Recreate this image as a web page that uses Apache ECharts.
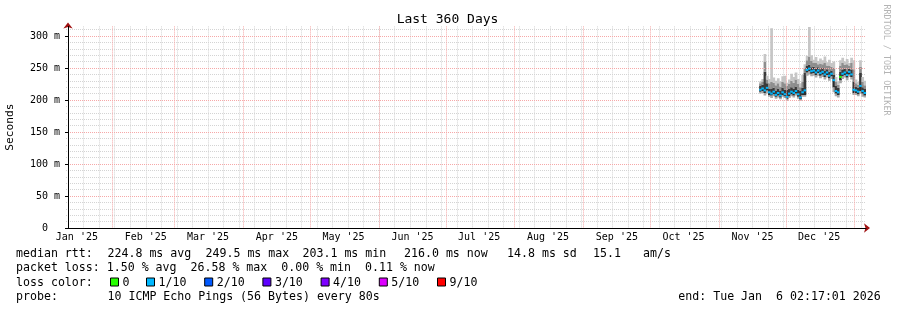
<!DOCTYPE html>
<html><head><meta charset="utf-8">
<script src="https://cdn.jsdelivr.net/npm/echarts@6/dist/echarts.min.js"></script>
<style>html,body{margin:0;padding:0;background:#fff}#c{width:897px;height:310px}</style>
</head><body><div id="c"></div>
<script>
// ---------------- data ----------------
const days = ['2025-11-19','2025-11-20','2025-11-21','2025-11-22','2025-11-23','2025-11-24','2025-11-25','2025-11-26','2025-11-27','2025-11-28','2025-11-29','2025-11-30',
  '2025-12-01','2025-12-02','2025-12-03','2025-12-04','2025-12-05','2025-12-06','2025-12-07','2025-12-08','2025-12-09','2025-12-10','2025-12-11','2025-12-12',
  '2025-12-13','2025-12-14','2025-12-15','2025-12-16','2025-12-17','2025-12-18','2025-12-19','2025-12-20','2025-12-21','2025-12-22','2025-12-23','2025-12-24',
  '2025-12-25','2025-12-26','2025-12-27','2025-12-28','2025-12-29','2025-12-30','2025-12-31','2026-01-01','2026-01-02','2026-01-03','2026-01-04','2026-01-05','2026-01-06'];
// median rtt (ms)
const median =       [216,218,215,219,212,210,213,208,211,207,212,209, 205,210,213,211,214,209,204,212,215,247,249,245, 246,243,246,242,244,240,243,238,241,231,214,212, 236,241,243,239,244,240,216,215,213,222,214,211,210];
// lowest ping (smoke bottom)
const smokeLow =     [210,211,207,210,205,203,206,202,204,201,205,203, 199,203,206,204,207,202,199,205,205,238,240,237, 238,235,238,234,236,232,235,230,233,212,206,204, 226,233,235,231,236,232,208,208,206,210,205,204,203];
// bottom of dark smoke (below median)
const smokeLowDark = [213,214,211,215,208,207,209,205,207,204,208,206, 202,206,209,207,210,205,201,208,208,243,245,241, 242,239,242,238,240,236,239,234,237,220,210,208, 231,237,239,235,240,236,211,211,209,214,210,207,206];
// top of dark smoke (above median)
const smokeDark =    [222,224,244,226,218,217,219,215,218,214,219,216, 216,217,220,218,221,216,214,219,242,253,255,251, 252,249,251,248,250,246,248,244,246,240,222,219, 244,247,249,245,249,247,228,221,219,242,220,217,216];
// top of mid smoke
const smokeMid =     [226,229,260,232,226,228,227,223,226,221,228,226, 222,225,230,227,232,225,220,229,250,262,268,261, 258,258,256,257,256,258,254,254,252,250,229,224, 254,258,255,256,254,258,248,226,224,252,228,223,222];
// highest ping (smoke top)
const smokeHigh =    [229,233,272,238,233,312,235,230,234,229,237,238, 227,232,241,236,243,233,226,239,256,269,314,270, 263,267,261,265,262,268,259,263,258,260,236,229, 262,266,260,264,258,266,262,232,228,262,236,230,228];
// packet loss in tenths
const lossTenths =   [1,1,1,1,1,1,1,1,1,1,1,1, 1,1,1,1,1,1,1,1,1,1,1,1, 1,1,1,1,1,1,1,1,1,1,1,1, 0,1,1,1,1,1,1,1,1,1,1,1,1];

const monthStarts = ['2025-02-01','2025-03-01','2025-04-01','2025-05-01','2025-06-01','2025-07-01','2025-08-01','2025-09-01','2025-10-01','2025-11-01','2025-12-01','2026-01-01'];
const monthLabelDays = ['2025-01-16','2025-02-16','2025-03-16','2025-04-16','2025-05-16','2025-06-16','2025-07-16','2025-08-16','2025-09-16','2025-10-16','2025-11-16','2025-12-16'];
const monthLabels = ["Jan '25","Feb '25","Mar '25","Apr '25","May '25","Jun '25","Jul '25","Aug '25","Sep '25","Oct '25","Nov '25","Dec '25"];
const lossNames = ['0','1/10','2/10','3/10','4/10','5/10','9/10'];
const lossLevels = [0,1,2,3,4,5,9];
const lossColors = ['#26ff00','#00b8ff','#0059ff','#5e00ff','#7e00ff','#dd00ff','#ff0000'];
const startTime = '2025-01-11T02:17:01';
const rangeDays = 360;
const firstSunday = '2025-01-12';

const legendRtt = [['median rtt:',16],['224.8 ms avg',107.5],['249.5 ms max',205.5],['203.1 ms min',302.5],['216.0 ms now',404],['14.8 ms sd',507],['15.1',593],['am/s',643]];
const legendLoss = 'packet loss: 1.50 % avg  26.58 % max  0.00 % min  0.11 % now';
const legendColorLabel = 'loss color:';
const legendProbe = [['probe:',16],['10 ICMP Echo Pings (56 Bytes) every 80s',107.5]];
const endText = 'end: Tue Jan  6 02:17:01 2026';

// ---------------- helpers ----------------
const ORIGIN = Date.parse(firstSunday + 'T00:00:00Z');
function dn(s){ const t = s.length <= 10 ? s + 'T00:00:00Z' : s + 'Z'; return (Date.parse(t) - ORIGIN) / 86400000; }
const xMin = dn(startTime), xMax = xMin + rangeDays;
const X = days.map(dn);
const sundays = []; for (let d = 0; d <= xMax; d += 7) sundays.push(d);

const MONO = '"DejaVu Sans Mono", monospace';
const dotted = [1, 1];
// bands: low->lowDark, lowDark->median, median->dark, dark->mid, mid->high
const smokeColors = ['#a9a9a9', '#2c2c2c', '#3a3a3a', '#8e8e8e', '#c6c6c6'];

const smokeData = [];
for (let i = 0; i < days.length - 1; i++)
  smokeData.push([X[i], X[i+1], smokeLow[i], smokeLowDark[i], median[i], smokeDark[i], smokeMid[i], smokeHigh[i]]);

const series = [{
  type:'custom', name:'smoke', z:2, silent:true, clip:true,
  encode:{x:[0,1], y:[2,3,4,5,6,7]}, data: smokeData,
  renderItem(params, api){
    const children = [];
    for (let k = 0; k < 5; k++) {
      const a = api.coord([api.value(0), api.value(3 + k)]);
      const b = api.coord([api.value(1), api.value(2 + k)]);
      children.push({type:'rect', shape:{x:a[0], y:a[1], width:b[0]-a[0]+0.5, height:b[1]-a[1]}, style:{fill: smokeColors[k]}});
    }
    return {type:'group', children};
  }
}];
lossLevels.forEach((lv, k) => {
  const data = [];
  for (let i = 0; i < days.length - 1; i++) if (lossTenths[i] === lv) data.push([X[i], X[i+1], median[i]]);
  series.push({type:'custom', name: lossNames[k], z:5, silent:true, itemStyle:{color: lossColors[k]},
    encode:{x:[0,1], y:2}, data,
    renderItem(params, api){
      const a = api.coord([api.value(0), api.value(2)]);
      const b = api.coord([api.value(1), api.value(2)]);
      return {type:'rect', shape:{x:a[0], y:a[1]-1, width:b[0]-a[0]+0.3, height:2}, style:{fill: api.visual('color')}};
    }});
});

// text graphics
const graphic = [];
function T(x, y, text, size, style, rotation){
  return {type:'text', x, y, rotation: rotation || 0, silent:true,
    style: Object.assign({text, font: size + 'px ' + MONO, fill:'#000', align:'left', verticalAlign:'middle'}, style || {})};
}
graphic.push(T(447.5, 20, 'Last 360 Days', 13, {align:'center'}));
graphic.push(T(886, 60, 'RRDTOOL / TOBI OETIKER', 8.4, {align:'center', fill:'#b4b4b4'}, -Math.PI/2));
const lineY = [253.5, 268, 282.5, 297];
legendRtt.forEach(([s, x]) => graphic.push(T(x, lineY[0], s, 11.6)));
graphic.push(T(16, lineY[1], legendLoss, 11.6));
graphic.push(T(16, lineY[2], legendColorLabel, 11.6));
legendProbe.forEach(([s, x]) => graphic.push(T(x, lineY[3], s, 11.6)));
graphic.push(T(678.3, lineY[3], endText, 11.6));
const swX = [110, 146, 204.2, 262.4, 320.6, 378.8, 437];
lossNames.forEach((n, k) => {
  graphic.push({type:'rect', silent:true, shape:{x:swX[k]+0.5, y:lineY[2]-4.5, width:8, height:8}, style:{fill:lossColors[k], stroke:'#000', lineWidth:1}});
  graphic.push(T(swX[k]+12.5, lineY[2], n, 11.6));
});

const chart = echarts.init(document.getElementById('c'), null, {renderer:'canvas'});
chart.setOption({
  animation:false,
  backgroundColor:'#fff',
  grid:{left:66, top:26.4, width:800, height:201.6, containLabel:false, outerBoundsMode:'none'},
  xAxis:[
    {type:'value', min:xMin, max:xMax, position:'bottom', z:3,
      axisLine:{show:true, lineStyle:{color:'#000', width:1}},
      axisTick:{show:false, customValues: monthStarts.map(dn)},
      splitLine:{show:true, lineStyle:{color:'#f6a8a8', type:dotted, width:1}},
      axisLabel:{show:true, customValues: monthLabelDays.map(dn), margin:4, fontFamily:MONO, fontSize:10, color:'#000',
        formatter:(v)=>{ const i = monthLabelDays.map(dn).findIndex(m=>Math.abs(m-v)<1e-6); return i>=0 ? monthLabels[i] : ''; }}},
    {type:'value', min:xMin, max:xMax, position:'bottom', z:1,
      axisLine:{show:false}, axisLabel:{show:false},
      axisTick:{show:false, customValues: sundays},
      splitLine:{show:true, lineStyle:{color:'#d4d4d4', type:dotted, width:1}}},
    {type:'value', min:xMin, max:xMax, position:'bottom', z:2,
      axisLine:{show:true, symbol:['none','arrow'], symbolSize:[7,6], symbolOffset:[0,4], lineStyle:{color:'#a01010', width:1}},
      axisLabel:{show:false}, axisTick:{show:false}, splitLine:{show:false}}
  ],
  yAxis:[
    {type:'value', min:0, max:315, interval:50, position:'left', z:3,
      name:'Seconds', nameLocation:'middle', nameGap:50, nameRotate:90,
      nameTextStyle:{fontFamily:MONO, fontSize:11.2, color:'#000'},
      axisLine:{show:true, lineStyle:{color:'#000', width:1}},
      axisTick:{show:true, length:3, lineStyle:{color:'#000'}},
      axisLabel:{showMaxLabel:false, margin:6, fontFamily:MONO, fontSize:10, color:'#000',
        formatter:(v)=> v === 0 ? '0  ' : v + ' m'},
      splitLine:{show:true, showMaxLine:false, lineStyle:{color:'#f6a8a8', type:dotted, width:1}}},
    {type:'value', min:0, max:315, interval:10, position:'left', z:1,
      axisLine:{show:false}, axisLabel:{show:false}, axisTick:{show:false},
      splitLine:{show:true, showMaxLine:false, lineStyle:{color:'#d4d4d4', type:dotted, width:1}}},
    {type:'value', min:0, max:315, position:'left', z:2,
      axisLine:{show:true, symbol:['none','arrow'], symbolSize:[7,6], symbolOffset:[0,4], lineStyle:{color:'#a01010', width:1}},
      axisLabel:{show:false}, axisTick:{show:false}, splitLine:{show:false}}
  ],
  series: series,
  graphic: graphic
});
</script></body></html>
